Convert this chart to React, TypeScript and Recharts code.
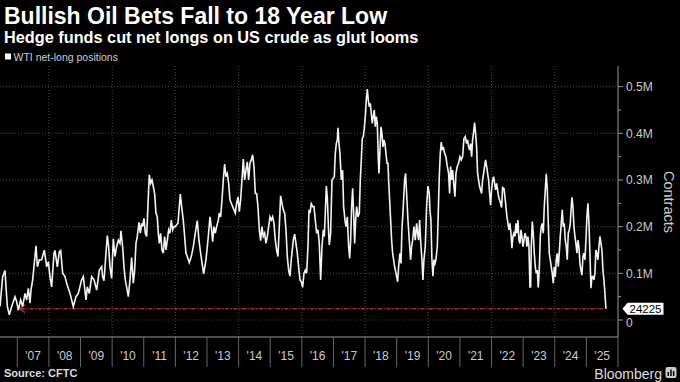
import { LineChart, Line, XAxis, YAxis, ReferenceLine, CartesianGrid } from "recharts";

// weekly-ish readings, decimal year -> net long (thousand contracts)
const dates = [
  2006.453, 2006.537, 2006.611, 2006.643, 2006.685, 2006.748, 2006.822, 2006.927, 2006.98, 2007.033,
  2007.107, 2007.17, 2007.244, 2007.296, 2007.349, 2007.402, 2007.433, 2007.486, 2007.592, 2007.634,
  2007.697, 2007.771, 2007.855, 2007.929, 2007.982, 2008.034, 2008.087, 2008.161, 2008.192, 2008.266,
  2008.329, 2008.372, 2008.435, 2008.509, 2008.561, 2008.667, 2008.772, 2008.856, 2008.93, 2009.036,
  2009.089, 2009.173, 2009.215, 2009.278, 2009.352, 2009.426, 2009.51, 2009.594, 2009.668, 2009.699,
  2009.742, 2009.805, 2009.847, 2009.889, 2009.931, 2009.984, 2010.037, 2010.089, 2010.142, 2010.195,
  2010.248, 2010.279, 2010.332, 2010.374, 2010.416, 2010.458, 2010.511, 2010.564, 2010.616, 2010.669,
  2010.711, 2010.754, 2010.796, 2010.848, 2010.891, 2010.933, 2010.964, 2011.007, 2011.049, 2011.091,
  2011.123, 2011.154, 2011.176, 2011.218, 2011.26, 2011.302, 2011.344, 2011.386, 2011.428, 2011.46,
  2011.491, 2011.534, 2011.576, 2011.618, 2011.66, 2011.702, 2011.745, 2011.787, 2011.829, 2011.871,
  2011.913, 2011.955, 2011.997, 2012.04, 2012.082, 2012.124, 2012.156, 2012.198, 2012.25, 2012.293,
  2012.335, 2012.377, 2012.44, 2012.504, 2012.567, 2012.63, 2012.693, 2012.746, 2012.799, 2012.894,
  2012.968, 2013.042, 2013.094, 2013.147, 2013.179, 2013.221, 2013.263, 2013.305, 2013.358, 2013.389,
  2013.432, 2013.474, 2013.516, 2013.558, 2013.6, 2013.642, 2013.685, 2013.727, 2013.769, 2013.811,
  2013.853, 2013.895, 2013.938, 2013.98, 2014.022, 2014.064, 2014.106, 2014.149, 2014.191, 2014.233,
  2014.275, 2014.317, 2014.359, 2014.402, 2014.444, 2014.486, 2014.528, 2014.57, 2014.612, 2014.655,
  2014.697, 2014.739, 2014.781, 2014.823, 2014.865, 2014.908, 2014.95, 2014.992, 2015.034, 2015.076,
  2015.118, 2015.16, 2015.203, 2015.245, 2015.287, 2015.329, 2015.371, 2015.413, 2015.456, 2015.498,
  2015.54, 2015.582, 2015.624, 2015.666, 2015.73, 2015.772, 2015.814, 2015.856, 2015.898, 2015.941,
  2015.983, 2016.025, 2016.067, 2016.11, 2016.152, 2016.194, 2016.226, 2016.257, 2016.299, 2016.342,
  2016.384, 2016.426, 2016.468, 2016.51, 2016.552, 2016.595, 2016.637, 2016.679, 2016.711, 2016.742,
  2016.774, 2016.805, 2016.848, 2016.869, 2016.911, 2016.953, 2016.995, 2017.027, 2017.058, 2017.09,
  2017.122, 2017.143, 2017.174, 2017.206, 2017.248, 2017.29, 2017.322, 2017.364, 2017.396, 2017.438,
  2017.48, 2017.512, 2017.543, 2017.575, 2017.607, 2017.638, 2017.67, 2017.702, 2017.733, 2017.775,
  2017.818, 2017.849, 2017.881, 2017.912, 2017.944, 2017.976, 2018.007, 2018.039, 2018.071, 2018.102,
  2018.134, 2018.165, 2018.197, 2018.229, 2018.26, 2018.292, 2018.324, 2018.355, 2018.387, 2018.419,
  2018.44, 2018.471, 2018.503, 2018.534, 2018.566, 2018.598, 2018.629, 2018.661, 2018.693, 2018.724,
  2018.745, 2018.777, 2018.809, 2018.84, 2018.872, 2018.903, 2018.935, 2018.967, 2018.998, 2019.03,
  2019.061, 2019.103, 2019.135, 2019.166, 2019.208, 2019.251, 2019.282, 2019.314, 2019.356, 2019.398,
  2019.44, 2019.472, 2019.504, 2019.546, 2019.588, 2019.63, 2019.662, 2019.693, 2019.725, 2019.757,
  2019.799, 2019.83, 2019.862, 2019.904, 2019.946, 2019.989, 2020.031, 2020.052, 2020.083, 2020.115,
  2020.147, 2020.178, 2020.21, 2020.241, 2020.284, 2020.315, 2020.347, 2020.379, 2020.41, 2020.442,
  2020.474, 2020.516, 2020.558, 2020.6, 2020.642, 2020.674, 2020.705, 2020.737, 2020.769, 2020.811,
  2020.842, 2020.874, 2020.916, 2020.958, 2021.0, 2021.043, 2021.085, 2021.127, 2021.169, 2021.211,
  2021.243, 2021.275, 2021.306, 2021.338, 2021.37, 2021.401, 2021.433, 2021.464, 2021.496, 2021.528,
  2021.559, 2021.591, 2021.623, 2021.654, 2021.686, 2021.717, 2021.749, 2021.781, 2021.812, 2021.844,
  2021.876, 2021.907, 2021.939, 2021.97, 2022.002, 2022.034, 2022.065, 2022.097, 2022.128, 2022.16,
  2022.192, 2022.223, 2022.255, 2022.287, 2022.318, 2022.35, 2022.393, 2022.424, 2022.456, 2022.487,
  2022.519, 2022.551, 2022.582, 2022.614, 2022.645, 2022.677, 2022.709, 2022.74, 2022.772, 2022.804,
  2022.835, 2022.867, 2022.899, 2022.93, 2022.962, 2022.993, 2023.025, 2023.057, 2023.088, 2023.12,
  2023.152, 2023.183, 2023.215, 2023.236, 2023.257, 2023.289, 2023.32, 2023.352, 2023.384, 2023.415,
  2023.447, 2023.478, 2023.51, 2023.542, 2023.573, 2023.605, 2023.637, 2023.668, 2023.7, 2023.731,
  2023.763, 2023.795, 2023.826, 2023.858, 2023.89, 2023.921, 2023.953, 2023.984, 2024.016, 2024.048,
  2024.079, 2024.111, 2024.142, 2024.174, 2024.206, 2024.237, 2024.269, 2024.3, 2024.332, 2024.364,
  2024.395, 2024.427, 2024.459, 2024.49, 2024.522, 2024.543, 2024.575, 2024.606, 2024.638, 2024.669,
  2024.701, 2024.733, 2024.764, 2024.796, 2024.828, 2024.859, 2024.891, 2024.922, 2024.954, 2024.986,
  2025.017, 2025.049, 2025.081, 2025.112, 2025.144, 2025.175, 2025.207, 2025.239, 2025.27, 2025.302,
  2025.334, 2025.365, 2025.397, 2025.429, 2025.46, 2025.492, 2025.524, 2025.555, 2025.587, 2025.619,
];

const netLong = [
  29, 93, 106, 71, 29, 11, 29, 50, 39, 21,
  43, 29, 57, 43, 68, 36, 64, 86, 159, 114,
  129, 129, 150, 114, 125, 93, 71, 143, 149, 114,
  146, 149, 100, 93, 79, 57, 29, 50, 57, 86,
  93, 43, 71, 57, 93, 86, 64, 107, 114, 93,
  84, 143, 181, 157, 114, 89, 174, 136, 157, 171,
  164, 191, 157, 114, 86, 71, 50, 86, 134, 79,
  107, 164, 179, 209, 186, 207, 200, 218, 186, 179,
  229, 279, 311, 293, 300, 286, 271, 229, 221, 186,
  164, 186, 150, 143, 179, 150, 171, 193, 186, 214,
  193, 200, 200, 204, 207, 243, 270, 243, 214, 179,
  143, 136, 123, 136, 157, 186, 213, 171, 143, 99,
  129, 179, 221, 193, 168, 200, 186, 200, 214, 229,
  221, 257, 300, 334, 307, 314, 293, 257, 250, 243,
  236, 229, 250, 264, 232, 257, 300, 345, 300, 321,
  339, 300, 336, 343, 354, 329, 271, 271, 243, 193,
  170, 200, 179, 186, 164, 179, 200, 221, 214, 221,
  207, 171, 150, 136, 200, 266, 250, 236, 229, 193,
  136, 107, 94, 129, 171, 184, 164, 143, 114, 86,
  82, 70, 100, 107, 100, 157, 236, 229, 249, 243,
  243, 214, 186, 193, 164, 86, 157, 193, 179, 229,
  287, 264, 186, 161, 186, 300, 304, 307, 357, 378,
  386, 412, 378, 357, 300, 321, 243, 214, 200, 221,
  157, 132, 171, 243, 282, 229, 164, 214, 243, 221,
  229, 300, 343, 389, 393, 411, 436, 471, 495, 471,
  457, 464, 443, 421, 436, 450, 414, 436, 421, 343,
  314, 364, 414, 400, 371, 386, 378, 357, 336, 336,
  300, 257, 214, 171, 143, 129, 114, 104, 93, 82,
  114, 143, 121, 193, 243, 300, 314, 271, 214, 171,
  129, 157, 171, 200, 171, 207, 186, 171, 214, 171,
  129, 86, 129, 157, 243, 287, 271, 236, 214, 129,
  94, 129, 121, 129, 157, 229, 307, 357, 381, 364,
  371, 357, 350, 329, 314, 271, 329, 300, 321, 286,
  264, 314, 329, 336, 350, 343, 350, 389, 393, 378,
  386, 371, 364, 378, 350, 386, 403, 423, 400, 371,
  314, 300, 286, 279, 271, 300, 314, 329, 343, 329,
  314, 300, 271, 246, 279, 300, 307, 293, 279, 293,
  279, 264, 257, 250, 241, 284, 282, 264, 243, 221,
  207, 193, 207, 186, 154, 179, 186, 179, 207, 186,
  214, 171, 164, 193, 179, 157, 171, 186, 179, 157,
  179, 157, 71, 71, 157, 211, 186, 143, 114, 100,
  107, 70, 107, 179, 200, 207, 186, 243, 279, 313,
  279, 207, 143, 129, 114, 100, 79, 114, 93, 129,
  143, 114, 143, 179, 207, 236, 200, 207, 171, 157,
  129, 186, 193, 207, 243, 263, 243, 200, 179, 164,
  143, 171, 157, 121, 107, 96, 136, 143, 129, 171,
  221, 250, 207, 143, 68, 93, 93, 86, 100, 150,
  143, 129, 157, 179, 164, 150, 107, 86, 57, 24.225,
];

const yearTicks = [
  2007, 2008, 2009, 2010, 2011, 2012, 2013, 2014, 2015, 2016,
  2017, 2018, 2019, 2020, 2021, 2022, 2023, 2024, 2025, 2026,
];
const gridYears = [2008, 2010, 2012, 2014, 2016, 2018, 2020, 2022, 2024];
const valueTicks = [0, 50, 100, 150, 200, 250, 300, 350, 400, 450, 500];
const gridValues = [0, 100, 200, 300, 400, 500];

const lastValue = 24.225;
const lowSince = 2007.085;

const X_MIN = 2006.453;
const X_MAX = 2026;
const Y_MIN = -36.4;
const Y_MAX = 544.2;
const PLOT_W = 618;
const YEAR_PX = PLOT_W / (X_MAX - X_MIN);

const FONT = '"Liberation Sans", Arial, sans-serif';
const RED = "#b02438";

const data = dates.map((t, i) => ({ t, v: netLong[i] }));

function YearTick({ x, y, payload }: any) {
  const yr = payload.value as number;
  return (
    <g>
      <line x1={x} y1={y} x2={x} y2={y + 30} stroke="#666" />
      {yr < 2026 && (
        <text x={x + YEAR_PX / 2} y={y + 23} textAnchor="middle" fill="#ccc" fontSize={12} fontFamily={FONT}>
          {"'" + String(yr).slice(2)}
        </text>
      )}
    </g>
  );
}

function ValueTick({ x, y, payload }: any) {
  const v = payload.value as number;
  const major = v % 100 === 0;
  return (
    <g>
      <line x1={x} y1={y} x2={x + (major ? 5 : 3)} y2={y} stroke="#999" />
      {major && (
        <text x={x + 8} y={y + (v === 0 ? 6.5 : 4.5)} fill="#ccc" fontSize={12} fontFamily={FONT}>
          {v === 0 ? "0" : `${v / 1000}M`}
        </text>
      )}
    </g>
  );
}

// dashed marker back to the last time positions were this low
function LowMarker(props: any) {
  const { x1, y1, x2 } = props;
  return (
    <g>
      <line x1={x1 + 1} y1={y1} x2={x2} y2={y1} stroke={RED} strokeWidth={1.5} strokeDasharray="4 1.5 1.5 1.5" />
      <path d={`M${x1 + 5},${y1 - 4} L${x1},${y1} L${x1 + 5},${y1 + 4}`} stroke={RED} strokeWidth={1.5} fill="none" />
    </g>
  );
}

function LastLabel({ viewBox }: any) {
  const x = viewBox.x + viewBox.width + 4.5;
  const y = viewBox.y;
  return (
    <g>
      <path d={`M${x},${y} L${x + 5},${y - 6} H${x + 41} V${y + 6} H${x + 5} Z`} fill="#fff" />
      <text x={x + 7} y={y + 4.3} fontSize={11.5} fill="#000" fontFamily={FONT}>
        {Math.round(lastValue * 1000)}
      </text>
    </g>
  );
}

export default function App() {
  return (
    <div style={{ position: "absolute", left: 0, top: 0, width: 680, height: 382, background: "#000" }}>
      <LineChart
        width={680}
        height={382}
        data={data}
        margin={{ top: 66, right: 0, bottom: 0, left: 0 }}
        style={{ position: "absolute", left: 0, top: 0 }}
      >
        <CartesianGrid
          stroke="#4a4a4a"
          strokeDasharray="1 2"
          horizontalValues={gridValues}
          verticalValues={gridYears}
        />
        <XAxis
          dataKey="t"
          type="number"
          domain={[X_MIN, X_MAX]}
          allowDataOverflow
          ticks={yearTicks}
          interval={0}
          tick={<YearTick />}
          tickLine={false}
          tickSize={0}
          tickMargin={0}
          axisLine={{ stroke: "#999" }}
          height={45}
        />
        <YAxis
          orientation="right"
          width={62}
          domain={[Y_MIN, Y_MAX]}
          allowDataOverflow
          ticks={valueTicks}
          interval={0}
          tick={<ValueTick />}
          tickLine={false}
          tickSize={0}
          tickMargin={0}
          axisLine={{ stroke: "#999" }}
        />
        <ReferenceLine
          segment={[
            { x: lowSince, y: lastValue },
            { x: dates[dates.length - 2], y: lastValue },
          ]}
          shape={<LowMarker />}
          ifOverflow="visible"
        />
        <ReferenceLine y={lastValue} stroke="none" label={<LastLabel />} ifOverflow="visible" />
        <Line
          dataKey="v"
          type="linear"
          stroke="#f4f4f4"
          strokeWidth={1.6}
          dot={false}
          isAnimationActive={false}
        />
      </LineChart>
      <svg width={680} height={382} style={{ position: "absolute", left: 0, top: 0, pointerEvents: "none" }}>
        <text x={4} y={24} fill="#fff" fontSize={23} fontWeight={700} fontFamily={FONT}>
          Bullish Oil Bets Fall to 18 Year Low
        </text>
        <text x={4} y={42.5} fill="#fff" fontSize={16.3} fontWeight={700} fontFamily={FONT}>
          Hedge funds cut net longs on US crude as glut looms
        </text>
        <rect x={5} y={53.5} width={6} height={6} fill="#fff" />
        <text x={13.5} y={61} fill="#ccc" fontSize={10.5} fontFamily={FONT}>
          WTI net-long positions
        </text>
        <text
          x={669}
          y={202}
          fill="#ccc"
          fontSize={14.5}
          fontFamily={FONT}
          textAnchor="middle"
          dominantBaseline="central"
          transform="rotate(90, 669, 202)"
        >
          Contracts
        </text>
        <text x={4} y={377} fill="#ddd" fontSize={11} fontWeight={700} fontFamily={FONT}>
          Source: CFTC
        </text>
        <text x={662} y={379} fill="#ddd" fontSize={14} textAnchor="end" fontFamily={FONT}>
          Bloomberg
        </text>
        <rect x={665.5} y={367} width={11} height={11} rx={2} fill="#ccc" />
        <rect x={667.5} y={372} width={1.5} height={4} fill="#000" />
        <rect x={670.2} y={369.5} width={1.5} height={6.5} fill="#000" />
        <rect x={672.9} y={371} width={1.5} height={5} fill="#000" />
      </svg>
    </div>
  );
}
